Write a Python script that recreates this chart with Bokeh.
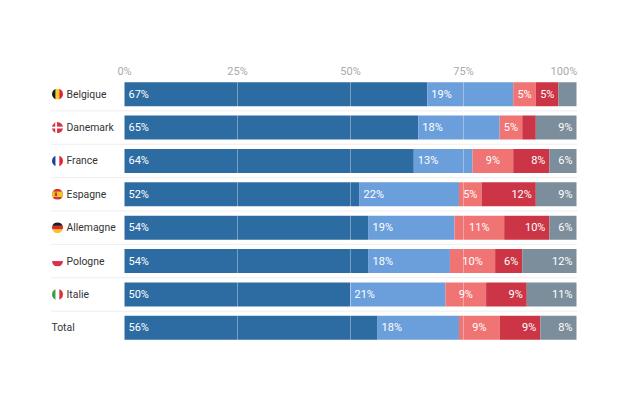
import base64
from bokeh.embed import file_html
from bokeh.resources import INLINE
from bokeh.plotting import figure
from bokeh.models import ColumnDataSource, FactorRange, FixedTicker, Range1d
from bokeh.transform import dodge
from bokeh.core.properties import value

countries = ["Belgique", "Danemark", "France", "Espagne", "Allemagne", "Pologne", "Italie", "Total"]
seg_a = [67, 65, 64, 52, 54, 54, 50, 56]
seg_b = [19, 18, 13, 22, 19, 18, 21, 18]
seg_c = [5, 5, 9, 5, 11, 10, 9, 9]
seg_d = [5, 3, 8, 12, 10, 6, 9, 9]
seg_e = [4, 9, 6, 9, 6, 12, 11, 8]
series = [seg_a, seg_b, seg_c, seg_d, seg_e]
colors = ["#2d6ca2", "#6b9fdb", "#f07474", "#cb3545", "#7c8e9b"]
ticks = [0, 25, 50, 75]
FONT = "Roboto"

PX = 4.52  # pixels per percentage point
W, H = 608, 400
LEFT = 124  # frame pixel of 0 %


def stripes(kind, cols):
    n = len(cols)
    if kind == "v":
        return "".join(f'<rect x="{i*24/n}" y="0" width="{24/n}" height="24" fill="{c}"/>' for i, c in enumerate(cols))
    return "".join(f'<rect x="0" y="{i*24/n}" width="24" height="{24/n}" fill="{c}"/>' for i, c in enumerate(cols))


flag_art = {
    "Belgique": stripes("v", ["#1a1a1a", "#fcd116", "#e0203a"]),
    "Danemark": stripes("h", ["#d5324a"]) + '<rect x="7" y="0" width="4" height="24" fill="#fff"/><rect x="0" y="10" width="24" height="4" fill="#fff"/>',
    "France": stripes("v", ["#1f3f9a", "#ffffff", "#e0243a"]),
    "Espagne": '<rect width="24" height="24" fill="#d0342c"/><rect y="6" width="24" height="12" fill="#f5c02c"/><rect x="6" y="8" width="5" height="8" fill="#b5432c"/>',
    "Allemagne": stripes("h", ["#1a1a1a", "#dc2a2a", "#fcc419"]),
    "Pologne": stripes("h", ["#ffffff", "#dc2f4d"]),
    "Italie": stripes("v", ["#3f9c46", "#ffffff", "#dc2f3a"]),
}


def flag_uri(art):
    svg = ('<svg xmlns="http://www.w3.org/2000/svg" width="96" height="96" viewBox="0 0 24 24">'
           '<defs><clipPath id="c"><circle cx="12" cy="12" r="12"/></clipPath></defs>'
           f'<g clip-path="url(#c)">{art}</g></svg>')
    return "data:image/svg+xml;base64," + base64.b64encode(svg.encode()).decode()


p = figure(width=W, height=H, output_backend="svg", toolbar_location=None,
           x_range=Range1d(-LEFT / PX, (W - LEFT) / PX),
           y_range=FactorRange(factors=countries[::-1], range_padding=0, factor_padding=0, group_padding=0),
           x_axis_location="above", y_axis_location=None,
           min_border_left=0, min_border_right=0, min_border_top=77, min_border_bottom=56,
           outline_line_color=None, background_fill_color="white", border_fill_color="white")

# stacked bars
left = [0] * len(countries)
for vals, col in zip(series, colors):
    right = [a + b for a, b in zip(left, vals)]
    p.hbar(y=countries, left=left, right=right, height=24 / 33.4, fill_color=col, line_color=None)
    left = right

# row separators
sep = ColumnDataSource(dict(c=countries[:-1], x0=[-73 / PX] * 7, x1=[100] * 7))
p.segment(x0="x0", x1="x1", y0=dodge("c", -0.5, range=p.y_range), y1=dodge("c", -0.5, range=p.y_range),
          source=sep, line_color="#dcdcdc", line_width=1, line_dash="1 1")

# value labels
style = [("left", 4), ("left", 4), ("center", 0), ("right", -4), ("right", -4)]
start = [0] * len(countries)
for i, vals in enumerate(series):
    align, off = style[i]
    end = [a + b for a, b in zip(start, vals)]
    rows = [j for j, v in enumerate(vals) if v >= 5]
    if align == "left":
        xs = [start[j] for j in rows]
    elif align == "center":
        xs = [(start[j] + end[j]) / 2 for j in rows]
    else:
        xs = [end[j] for j in rows]
    p.text(x=xs, y=[countries[j] for j in rows], text=[f"{vals[j]}%" for j in rows],
           text_align=align, text_baseline="middle", x_offset=off, text_color="white",
           text_font=value(FONT), text_font_size="11px")
    start = end

# row labels
named = [c for c in countries if c != "Total"]
p.text(x=[-58 / PX] * len(named), y=named, text=named, text_align="left", text_baseline="middle",
       text_color="#333333", text_font=value(FONT), text_font_size="10.4px")
p.text(x=[-73 / PX], y=["Total"], text=["Total"], text_align="left", text_baseline="middle",
       text_color="#333333", text_font=value(FONT), text_font_size="10.4px")

# flags
p.image_url(url=[flag_uri(flag_art[c]) for c in named], x=[-67 / PX] * len(named), y=named,
            w=11, h=11, w_units="screen", h_units="screen", anchor="center")

# axis: the last label sits flush with the right end of the bars, so its tick is
# moved left by half the label's width (axis labels can only be centred)
last_tick = 100 - 12.6 / PX
ax = p.xaxis[0]
ax.ticker = FixedTicker(ticks=ticks + [last_tick])
ax.major_label_overrides = {**{t: f"{t}%" for t in ticks}, last_tick: "100%"}
ax.axis_line_color = None
ax.major_tick_line_color = None
ax.minor_tick_line_color = None
ax.major_tick_out = 0
ax.major_tick_in = 0
ax.major_label_standoff = 0
ax.major_label_text_color = "#aaaaaa"
ax.major_label_text_font = FONT
ax.major_label_text_font_size = "11px"

# grid lines drawn over bars
p.ygrid.visible = False
g = p.xgrid[0]
g.ticker = FixedTicker(ticks=[25, 50, 75])
g.grid_line_color = "white"
g.grid_line_alpha = 0.35
g.grid_line_width = 1
g.level = "overlay"

open("out.html", "w").write(file_html(p, INLINE))
